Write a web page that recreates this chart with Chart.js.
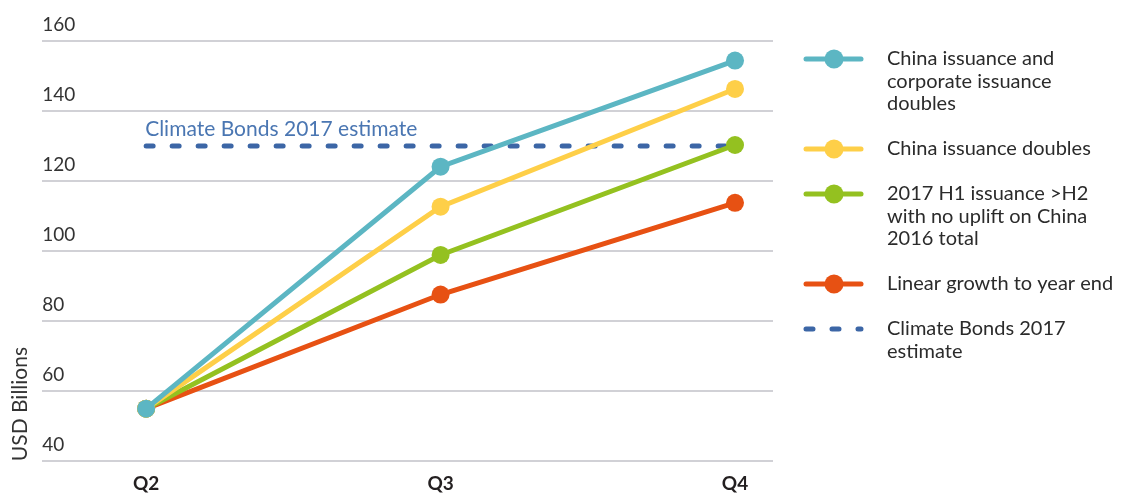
<!DOCTYPE html>
<html>
<head>
<meta charset="utf-8">
<script src="https://cdn.jsdelivr.net/npm/chart.js@4"></script>
<style>
  html, body { margin: 0; padding: 0; background: #fff; }
  #wrap { width: 1123px; height: 494px; position: relative; }
</style>
</head>
<body>
<div id="wrap"><canvas id="myChart"></canvas></div>
<script>
// data
const quarters = ["Q2", "Q3", "Q4"];
const chinaAndCorporateDoubles = [55, 124.1, 154.4];
const chinaDoubles = [55, 112.7, 146.3];
const h1AboveH2 = [55, 98.9, 130.3];
const linearGrowth = [55, 87.6, 113.8];
const climateBondsEstimate = 130;
const yTicks = [40, 60, 80, 100, 120, 140, 160];
const seriesLabels = [
  ["China issuance and", "corporate issuance", "doubles"],
  ["China issuance doubles"],
  ["2017 H1 issuance >H2", "with no uplift on China", "2016 total"],
  ["Linear growth to year end"],
  ["Climate Bonds 2017", "estimate"],
];
const estimateNote = "Climate Bonds 2017 estimate";

const toPoints = (values) => values.map((v, i) => ({ x: i, y: v }));

function lineSeries(label, values, color) {
  return {
    label: label,
    data: toPoints(values),
    borderColor: color,
    backgroundColor: color,
    borderWidth: 5,
    pointRadius: 9,
    pointBorderWidth: 0,
    pointBackgroundColor: color,
    tension: 0,
  };
}

// legend + text note drawn on the canvas
const overlay = {
  id: "overlay",
  afterDatasetsDraw(chart) {
    const { ctx } = chart;
    const x = chart.scales.x.getPixelForValue(0);
    const y = chart.scales.y.getPixelForValue(climateBondsEstimate);
    ctx.save();
    ctx.font = "21px Lato";
    ctx.fillStyle = "#4a76b2";
    ctx.textBaseline = "middle";
    ctx.textAlign = "left";
    ctx.fillText(estimateNote, x - 1, y - 17);
    ctx.restore();
  },
  afterDraw(chart) {
    const { ctx } = chart;
    const lineH = 22.5;
    let y = 59;
    ctx.save();
    chart.data.datasets.forEach((ds) => {
      ctx.strokeStyle = ds.borderColor;
      ctx.lineWidth = 5;
      ctx.lineCap = "round";
      ctx.setLineDash(ds.borderDash || []);
      ctx.beginPath();
      ctx.moveTo(806, y);
      ctx.lineTo(861, y);
      ctx.stroke();
      ctx.setLineDash([]);
      if (ds.pointRadius > 0) {
        ctx.fillStyle = ds.borderColor;
        ctx.beginPath();
        ctx.arc(834, y, 9.5, 0, Math.PI * 2);
        ctx.fill();
      }
      ctx.font = "20px Lato";
      ctx.fillStyle = "#2b2b2b";
      ctx.textBaseline = "middle";
      ctx.textAlign = "left";
      ds.label.forEach((t, i) => ctx.fillText(t, 887, y + i * lineH));
      y += ds.label.length * lineH + 22.5;
    });
    ctx.restore();
  },
};

Chart.defaults.font.family = "Lato, 'Open Sans', sans-serif";
Chart.defaults.color = "#2b2b2b";

const ctx = document.getElementById("myChart");
new Chart(ctx, {
  type: "line",
  data: {
    datasets: [
      lineSeries(seriesLabels[0], chinaAndCorporateDoubles, "#5cb6c3"),
      lineSeries(seriesLabels[1], chinaDoubles, "#fecf48"),
      lineSeries(seriesLabels[2], h1AboveH2, "#94c120"),
      lineSeries(seriesLabels[3], linearGrowth, "#e75113"),
      {
        label: seriesLabels[4],
        data: [
          { x: 0, y: climateBondsEstimate },
          { x: quarters.length - 1, y: climateBondsEstimate },
        ],
        borderColor: "#3c66a6",
        borderWidth: 5,
        borderDash: [7, 19],
        borderCapStyle: "round",
        pointRadius: 0,
      },
    ],
  },
  options: {
    responsive: true,
    maintainAspectRatio: false,
    animation: false,
    layout: {
      padding: { left: 2, right: 350, top: 41, bottom: -4 },
    },
    plugins: {
      legend: { display: false },
      tooltip: { enabled: false },
    },
    scales: {
      x: {
        type: "linear",
        min: -0.353,
        max: 2.129,
        grid: { display: false },
        border: { display: false },
        afterBuildTicks: (s) => {
          s.ticks = quarters.map((q, i) => ({ value: i }));
        },
        ticks: {
          callback: (v) => quarters[v],
          font: { size: 19, weight: "bold" },
          color: "#231f20",
          padding: 3,
          maxRotation: 0,
          autoSkip: false,
        },
      },
      y: {
        min: 40,
        max: 160,
        afterBuildTicks: (s) => {
          s.ticks = yTicks.map((v) => ({ value: v }));
        },
        grid: { color: "#d1d1d6", lineWidth: 2, drawTicks: false },
        border: { display: false },
        ticks: {
          mirror: true,
          labelOffset: -16,
          padding: 0,
          font: { size: 19 },
          color: "#333",
        },
        title: {
          display: true,
          text: "USD Billions",
          align: "start",
          font: { size: 21 },
          color: "#333",
          padding: { top: 6, bottom: 9 },
        },
      },
    },
  },
  plugins: [overlay],
});
</script>
</body>
</html>
